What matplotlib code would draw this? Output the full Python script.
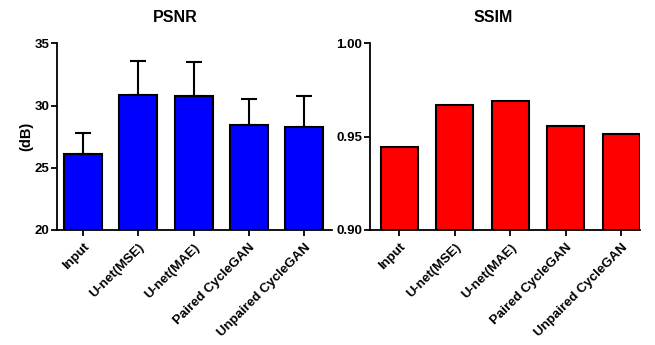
import matplotlib
matplotlib.use("Agg")
import matplotlib.pyplot as plt
import numpy as np

plt.rcParams['font.family'] = ['Liberation Sans', 'DejaVu Sans']
plt.rcParams['font.weight'] = 'bold'

categories = ["Input", "U-net(MSE)", "U-net(MAE)", "Paired CycleGAN", "Unpaired CycleGAN"]
psnr_mean = [26.1, 30.85, 30.75, 28.4, 28.3]
psnr_err = [1.7, 2.75, 2.75, 2.1, 2.45]
ssim_mean = [0.9443, 0.967, 0.969, 0.9556, 0.9513]
psnr_ticks = [20, 25, 30, 35]
ssim_ticks = [0.90, 0.95, 1.00]

fig = plt.figure(figsize=(6.55, 3.45), dpi=100)
ax1 = fig.add_axes([57/655, 115/345, 275/655, 186.7/345])
ax2 = fig.add_axes([370/655, 115/345, 270/655, 186.7/345])

x = np.arange(len(categories))

def style(ax):
    for s in ['top', 'right']:
        ax.spines[s].set_visible(False)
    for s in ['left', 'bottom']:
        ax.spines[s].set_linewidth(1.3)
    ax.tick_params(axis='both', direction='out', length=4, width=1.3, labelsize=9.5, pad=1.5)
    ax.tick_params(axis='x', pad=4)
    ax.set_xticks(x)
    ax.set_xticklabels(categories, rotation=45, ha='right', rotation_mode='anchor', fontweight='bold')
    for lbl in ax.get_yticklabels():
        lbl.set_fontweight('bold')

ax1.bar(x, psnr_mean, width=0.69, color='#0000ff', edgecolor='black', linewidth=1.5,
        yerr=[np.zeros(len(psnr_err)), psnr_err],
        error_kw=dict(ecolor='black', elinewidth=1.5, capsize=5.5, capthick=1.5), zorder=2)
ax1.set_ylim(20, 35)
ax1.set_xlim(-0.47, 4.5)
ax1.set_yticks(psnr_ticks)
ax1.set_yticklabels([str(t) for t in psnr_ticks])
ax1.set_ylabel("(dB)", fontsize=10.5, fontweight='bold', labelpad=1)
style(ax1)

ax2.bar(x, ssim_mean, width=0.67, color='#ff0000', edgecolor='black', linewidth=1.5, zorder=2)
ax2.set_ylim(0.90, 1.00)
ax2.set_xlim(-0.53, 4.34)
ax2.set_yticks(ssim_ticks)
ax2.set_yticklabels([f"{t:.2f}" for t in ssim_ticks])
style(ax2)

fig.text(175/655, 1 - 18/345, "PSNR", ha='center', va='center', fontsize=11.5, fontweight='bold')
fig.text(493/655, 1 - 18/345, "SSIM", ha='center', va='center', fontsize=11.5, fontweight='bold')

fig.savefig("out.png", dpi=100, facecolor='white')
